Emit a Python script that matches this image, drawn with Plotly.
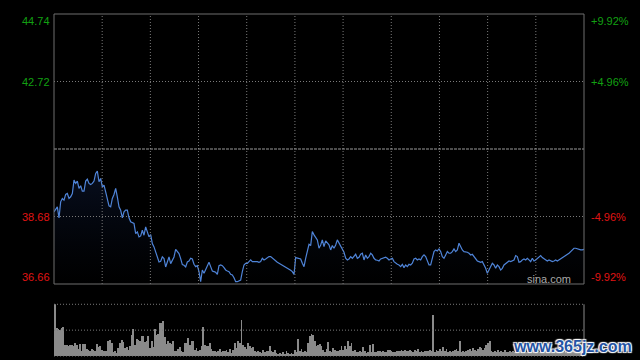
import numpy as np
import plotly.graph_objects as go

# ---------------- data ----------------
prev_close = 40.70
y_ticks_left = [44.74, 42.72, 38.68, 36.66]
y_ticks_left_text = ["44.74", "42.72", "38.68", "36.66"]
y_ticks_right_text = ["+9.92%", "+4.96%", "-4.96%", "-9.92%"]

price_part1 = [38.82, 38.92, 38.97, 38.64, 39.12, 39.22, 39.17, 39.34, 39.37, 39.22,
               39.27, 39.37, 39.77, 39.67, 39.74, 39.52, 39.60, 39.44, 39.44, 39.74,
               39.80, 39.67, 39.64, 39.67, 39.74, 39.97, 40.04, 39.72, 39.82, 39.57,
               39.62, 39.42, 39.22, 39.00, 38.97, 39.22, 39.34, 39.52, 39.27, 38.97,
               38.87, 38.64, 38.82, 38.87, 38.87, 38.64, 38.52, 38.50, 38.47, 38.17,
               38.22, 38.07, 38.10, 38.27, 38.12, 38.37, 38.22, 38.07, 38.14, 37.87,
               37.77, 37.62, 37.47, 37.32, 37.34, 37.47, 37.42, 37.17, 37.32, 37.47,
               37.27, 37.37, 37.47, 37.70, 37.62, 37.57, 37.42, 37.24, 37.22, 37.17,
               37.32]
price_part2 = [37.35, 37.43, 37.41, 37.25, 37.18, 37.21, 37.03, 36.73, 37.08, 36.98,
               37.11, 37.18, 37.31, 37.18, 37.05, 37.03, 37.01, 36.95, 37.21, 37.23,
               37.21, 37.15, 37.08, 37.05, 37.03, 36.95, 36.93, 36.85, 36.73, 36.73,
               36.75, 36.78, 37.03, 37.23, 37.28, 37.28, 37.33, 37.38, 37.33, 37.33,
               37.35, 37.33, 37.31, 37.33, 37.43, 37.38, 37.41, 37.45, 37.48, 37.48,
               37.43, 37.38, 37.33, 37.31, 37.28, 37.25, 37.23, 37.21, 37.18, 37.15,
               37.11, 37.07, 37.03, 36.95, 37.45, 37.43, 37.43, 37.41, 37.28, 37.18,
               37.43, 37.68, 37.85, 37.81, 38.23, 38.13, 38.03, 37.98, 37.73]
price_part3 = [37.83, 37.98, 37.78, 37.95, 37.88, 37.83, 37.68, 37.81, 37.73, 37.83,
               37.98, 37.88, 37.83, 37.73, 37.61, 37.43, 37.38, 37.41, 37.48, 37.43,
               37.51, 37.55, 37.43, 37.46, 37.55, 37.58, 37.38, 37.53, 37.43, 37.48,
               37.58, 37.53, 37.43, 37.38, 37.37, 37.35, 37.41, 37.43, 37.45, 37.46,
               37.43, 37.38, 37.41, 37.43, 37.33, 37.28, 37.25, 37.23, 37.18, 37.25,
               37.15, 37.23, 37.18, 37.25, 37.23, 37.28, 37.41, 37.43, 37.38, 37.41,
               37.38, 37.48, 37.53, 37.48, 37.38, 37.23, 37.23, 37.43, 37.63, 37.68,
               37.65, 37.71, 37.63, 37.48, 37.43, 37.53, 37.63, 37.58]
price_part4 = [37.58, 37.63, 37.71, 37.63, 37.68, 37.88, 37.75, 37.68, 37.63, 37.63,
               37.61, 37.58, 37.53, 37.55, 37.48, 37.43, 37.35, 37.33, 37.31, 37.33,
               37.25, 37.13, 36.98, 37.08, 37.18, 37.28, 37.23, 37.13, 37.23, 37.18,
               37.08, 37.13, 37.23, 37.28, 37.33, 37.35, 37.33, 37.35, 37.38, 37.51,
               37.48, 37.31, 37.33, 37.38, 37.41, 37.38, 37.43, 37.38, 37.33, 37.43,
               37.35, 37.38, 37.43, 37.48, 37.51, 37.45, 37.41, 37.38, 37.35, 37.38,
               37.35, 37.33, 37.35, 37.38, 37.35, 37.38, 37.43, 37.45, 37.48, 37.51,
               37.55, 37.58, 37.63, 37.68, 37.73, 37.73, 37.71, 37.71, 37.68, 37.68,
               37.70]
prices = price_part1 + price_part2 + price_part3 + price_part4

volume_part1 = [155, 83, 81, 78, 83, 86, 31, 33, 28, 31, 33, 28, 38, 31, 21, 35, 13, 35, 35, 21,
                18, 15, 21, 18, 13, 35, 25, 28, 18, 13, 15, 13, 43, 48, 38, 11, 13, 8, 23, 38,
                48, 41, 23, 25, 18, 28, 63, 81, 31, 51, 48, 43, 58, 58, 41, 43, 58, 23, 43, 25,
                81, 63, 65, 99, 99, 103, 55, 35, 45, 38, 35, 43, 13, 15, 21, 25, 15, 11, 38, 38,
                53, 33, 43, 43, 18, 23, 13, 18, 28, 86, 33, 28, 28, 38, 21, 13, 15, 11, 13, 21,
                11, 13, 15, 18, 11, 20, 8, 18, 38, 23, 45, 38, 108, 33, 25, 21, 38, 28, 23, 25,
                15, 11, 15, 11, 8, 18, 11, 15, 13, 28, 15, 11, 18, 8, 5, 8, 5, 11, 5, 13,
                8, 5, 8, 5, 18, 11, 51, 15, 21, 11, 13, 11, 38, 58, 65, 61, 43, 28, 31, 35]
volume_part2 = [30, 17, 10, 20, 40, 15, 10, 23, 17, 15, 13, 17, 30, 17, 30, 20, 43, 30, 37, 15,
                17, 10, 10, 15, 10, 25, 15, 7, 10, 33, 10, 35, 10, 12, 15, 13, 10, 15, 12, 10,
                17, 17, 13, 10, 12, 15, 13, 13, 17, 15, 17, 13, 15, 17, 13, 10, 17, 13, 20, 10,
                13, 10, 15, 13, 15, 17, 13, 123, 10, 17, 13, 20, 15, 25, 13, 20, 10, 15, 10, 15,
                17, 20, 15, 43, 10, 15, 10, 13, 17, 20, 15, 23, 17, 15, 20, 27, 23, 17, 23, 33,
                37, 45, 15, 10, 13, 10, 17, 10, 15, 12, 17, 10, 12, 15, 10, 13, 10, 15, 12, 10,
                14, 9, 13, 11, 16, 10, 12, 15, 9, 11, 14, 10, 13, 12, 18, 10, 11, 14, 9, 12,
                16, 11, 10, 13, 12, 15, 10, 9, 14, 12, 11, 13, 10, 16, 12, 11, 14, 13]
volumes = volume_part1 + volume_part2

# ---------------- styling ----------------
GREEN = "#12a012"
RED = "#e01414"
GRID = "#7a7a7a"
FONT = "Arial, Liberation Sans, sans-serif"

px_idx = np.arange(len(prices))
vol_idx = np.arange(len(volumes))

fig = go.Figure()

fig.add_trace(go.Scatter(
    x=px_idx, y=prices, mode="lines",
    line=dict(color="#4f84d8", width=1.2),
    fill="tozeroy",
    fillgradient=dict(type="vertical", start=36.66, stop=max(prices),
                      colorscale=[[0, "rgba(20,40,90,0.0)"], [1, "rgba(35,65,140,0.22)"]]),
    xaxis="x", yaxis="y", hoverinfo="skip", showlegend=False))

fig.add_trace(go.Bar(
    x=vol_idx, y=volumes, width=0.5,
    marker=dict(color="#8a8a8a", line=dict(width=0)),
    xaxis="x2", yaxis="y2", hoverinfo="skip", showlegend=False))

main_bottom = 0.2105
vol_top = 0.1512

fig.update_layout(
    width=640, height=360,
    margin=dict(l=54, r=56, t=14, b=4),
    paper_bgcolor="#000000", plot_bgcolor="#000000",
    font=dict(family=FONT, size=11),
    xaxis=dict(domain=[0, 1], range=[0, len(prices) - 1], visible=False, fixedrange=True),
    yaxis=dict(domain=[main_bottom, 1], range=[36.66, 44.74], visible=False),
    xaxis2=dict(domain=[0, 1], range=[-0.6, len(volumes) - 0.4], visible=False, anchor="y2"),
    yaxis2=dict(domain=[0, vol_top], range=[0, 155], visible=False, anchor="x2"),
    bargap=0,
)

shapes = []
# vertical dotted grid lines in main panel
for k in range(1, 11):
    shapes.append(dict(type="line", xref="x domain", yref="y domain",
                       x0=k / 11, x1=k / 11, y0=0, y1=1,
                       line=dict(color=GRID, width=1, dash="1px,2px")))
# horizontal dotted grid lines
for v in [42.72, 38.68]:
    shapes.append(dict(type="line", xref="x domain", yref="y",
                       x0=0, x1=1, y0=v, y1=v,
                       line=dict(color=GRID, width=1, dash="1px,2px")))
# previous close line
shapes.append(dict(type="line", xref="x domain", yref="y",
                   x0=0, x1=1, y0=prev_close, y1=prev_close,
                   line=dict(color="#9a9a9a", width=1, dash="3px,1px")))
# main frame
shapes.append(dict(type="rect", xref="x domain", yref="y domain",
                   x0=0, x1=1, y0=0, y1=1,
                   line=dict(color="#6e6e6e", width=1)))
# volume panel lines
for fy in [1.0, 0.5, 0.0]:
    shapes.append(dict(type="line", xref="x2 domain", yref="y2 domain",
                       x0=0, x1=1, y0=fy, y1=fy,
                       line=dict(color=GRID, width=1, dash="1px,2px")))
shapes.append(dict(type="line", xref="x2 domain", yref="y2 domain",
                   x0=1, x1=1, y0=0, y1=1,
                   line=dict(color="#8a8a8a", width=1)))
fig.update_layout(shapes=shapes)

annotations = []
anchors = ["top", "middle", "middle", "bottom"]
colors = [GREEN, GREEN, RED, RED]
for v, lt, rt, ya, c in zip(y_ticks_left, y_ticks_left_text, y_ticks_right_text, anchors, colors):
    yshift = 1 if ya == "top" else (-1 if ya == "bottom" else 0)
    annotations.append(dict(x=0, xref="paper", y=v, yref="y", text=lt,
                            xanchor="right", yanchor=ya, xshift=-2, yshift=yshift,
                            showarrow=False, font=dict(color=c, size=11, family=FONT)))
    annotations.append(dict(x=1, xref="paper", y=v, yref="y", text=rt,
                            xanchor="left", yanchor=ya, xshift=5, yshift=yshift,
                            showarrow=False, font=dict(color=c, size=11, family=FONT)))
annotations.append(dict(x=(573 - 54) / 530, xref="paper", y=1 - (279 - 14) / 342, yref="paper",
                        text="sina.com", showarrow=False, xanchor="right", yanchor="middle",
                        font=dict(color="#a8a8a8", size=11, family=FONT)))
annotations.append(dict(
    x=1 + (634 - 584) / 530, xref="paper", y=1 - (346 - 14) / 342, yref="paper",
    text="<b>www.365jz.com</b>", showarrow=False, xanchor="right", yanchor="middle",
    font=dict(color="#2554a4", size=16, family=FONT,
              shadow="1px 1px 1px #ffffff, -1px -1px 1px #ffffff, 1px -1px 1px #ffffff, -1px 1px 1px #ffffff")))
fig.update_layout(annotations=annotations)

fig.write_html("out.html", config={"displayModeBar": False})
